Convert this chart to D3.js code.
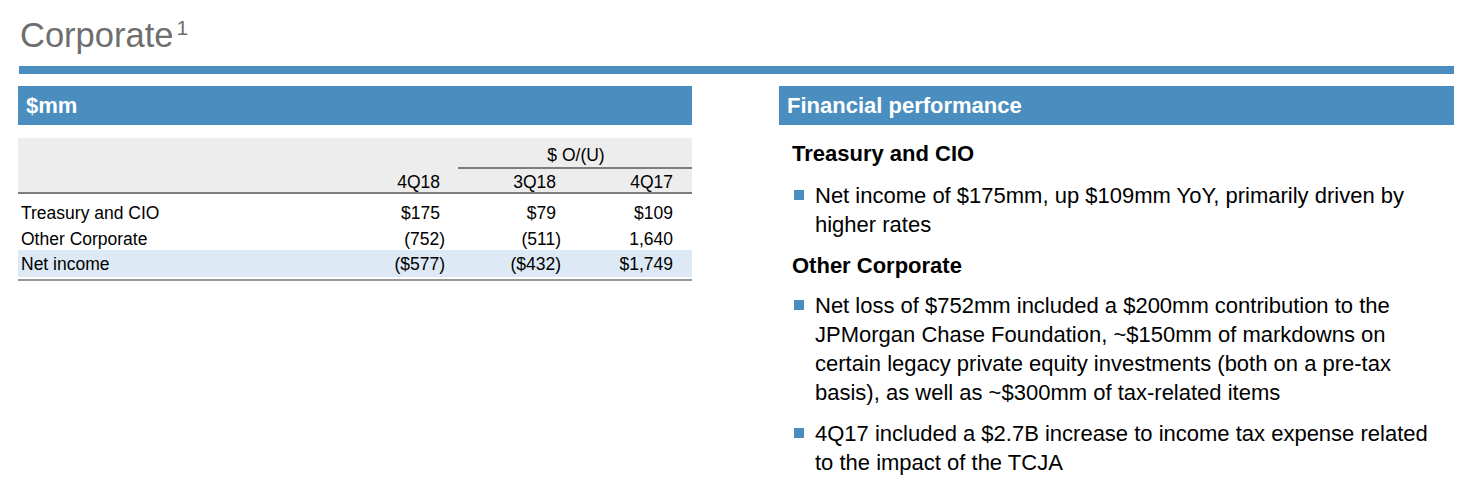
<!DOCTYPE html>
<html>
<head>
<meta charset="utf-8">
<script src="https://cdn.jsdelivr.net/npm/d3@7"></script>
<style>
  body { margin: 0; background: #fff; }
  svg text { font-family: "Liberation Sans", Arial, sans-serif; }
</style>
</head>
<body>
<div id="slide"></div>
<script>
// -----------------------------
// data
// -----------------------------

const periods = ['4Q18', '3Q18', '4Q17']
const groupLabel = '$ O/(U)'
const rowLabels = ['Treasury and CIO', 'Other Corporate', 'Net income']
const treasuryValues = [175, 79, 109]
const otherCorpValues = [-752, -511, 1640]
const netIncomeValues = [-577, -432, 1749]
const dollarRows = [true, false, true]

const sections = ['Treasury and CIO', 'Other Corporate']
const bulletsTreasury = [
    ['Net income of $175mm, up $109mm YoY, primarily driven by', 'higher rates']
]
const bulletsOther = [
    ['Net loss of $752mm included a $200mm contribution to the',
     'JPMorgan Chase Foundation, ~$150mm of markdowns on',
     'certain legacy private equity investments (both on a pre-tax',
     'basis), as well as ~$300mm of tax-related items'],
    ['4Q17 included a $2.7B increase to income tax expense related',
     'to the impact of the TCJA']
]

// -----------------------------
// setup
// -----------------------------

const W = 1482, H = 493
const blue = '#4a8ec0'
const ruleGrey = '#7d7d7d'

const svg = d3.select('#slide')
    .append('svg')
    .attr('width', W)
    .attr('height', H)

// title
const title = svg.append('text')
    .attr('x', 20)
    .attr('y', 47)
    .attr('fill', '#6e6e6e')
    .attr('font-size', 34.5)
    .text('Corporate')
title.append('tspan')
    .attr('font-size', 21)
    .attr('dx', 3)
    .attr('dy', -12)
    .text('1')

svg.append('rect')
    .attr('x', 19).attr('y', 66)
    .attr('width', 1435).attr('height', 8)
    .attr('fill', blue)

// panel headers
const panels = [
    {x: 18, w: 674, label: '$mm'},
    {x: 779, w: 675, label: 'Financial performance'}
]
svg.selectAll('g.panel-head')
    .data(panels)
    .enter()
    .append('g')
    .attr('class', 'panel-head')
    .each(function(d) {
        const g = d3.select(this)
        g.append('rect')
            .attr('x', d.x).attr('y', 86)
            .attr('width', d.w).attr('height', 39)
            .attr('fill', blue)
        g.append('text')
            .attr('x', d.x + 8)
            .attr('y', 113)
            .attr('fill', '#fff')
            .attr('font-weight', 'bold')
            .attr('font-size', 22)
            .text(d.label)
    })

// -----------------------------
// table
// -----------------------------

const tbl = svg.append('g').attr('font-size', 17.5).attr('fill', '#000')

const colX = d3.scaleOrdinal()
    .domain(periods)
    .range([440, 556, 673])

const rowY = d3.scalePoint()
    .domain(rowLabels)
    .range([219, 270])

tbl.append('rect')
    .attr('x', 18).attr('y', 138)
    .attr('width', 674).attr('height', 55)
    .attr('fill', '#ededed')

tbl.append('rect')
    .attr('x', 18).attr('y', 250)
    .attr('width', 674).attr('height', 27)
    .attr('fill', '#dde9f5')

tbl.append('text')
    .attr('x', 576).attr('y', 161)
    .attr('text-anchor', 'middle')
    .text(groupLabel)

tbl.append('line')
    .attr('x1', 458).attr('x2', 692)
    .attr('y1', 168).attr('y2', 168)
    .attr('stroke', ruleGrey).attr('stroke-width', 2)

tbl.selectAll('text.period')
    .data(periods)
    .enter()
    .append('text')
    .attr('class', 'period')
    .attr('x', d => colX(d))
    .attr('y', 188)
    .attr('text-anchor', 'end')
    .text(d => d)

tbl.append('line')
    .attr('x1', 18).attr('x2', 692)
    .attr('y1', 193).attr('y2', 193)
    .attr('stroke', ruleGrey).attr('stroke-width', 2)

tbl.append('line')
    .attr('x1', 18).attr('x2', 692)
    .attr('y1', 280).attr('y2', 280)
    .attr('stroke', '#999').attr('stroke-width', 2)

const fmtNum = d3.format(',')
function fmtCell(v, dollar) {
    const s = (dollar ? '$' : '') + fmtNum(Math.abs(v))
    return v < 0 ? '(' + s + ')' : s
}

const rows = rowLabels.map((name, i) => ({
    name: name,
    dollar: dollarRows[i],
    values: [treasuryValues, otherCorpValues, netIncomeValues][i]
}))

const rowG = tbl.selectAll('g.row')
    .data(rows)
    .enter()
    .append('g')
    .attr('class', 'row')
    .attr('transform', d => 'translate(0,' + rowY(d.name) + ')')

rowG.append('text')
    .attr('x', 21)
    .text(d => d.name)

rowG.selectAll('text.val')
    .data(d => d.values.map((v, j) => ({v: v, period: periods[j], dollar: d.dollar})))
    .enter()
    .append('text')
    .attr('class', 'val')
    .attr('text-anchor', 'end')
    .attr('x', d => colX(d.period) + (d.v < 0 ? 5 : 0))
    .text(d => fmtCell(d.v, d.dollar))

// -----------------------------
// commentary
// -----------------------------

const lineH = 29
const notes = svg.append('g').attr('fill', '#000')

const blocks = [
    {head: sections[0], headY: 161, bullets: bulletsTreasury, startY: 203},
    {head: sections[1], headY: 273, bullets: bulletsOther, startY: 313}
]

blocks.forEach(b => {
    notes.append('text')
        .attr('x', 792)
        .attr('y', b.headY)
        .attr('font-weight', 'bold')
        .attr('font-size', 22)
        .text(b.head)

    let y = b.startY
    b.bullets.forEach(lines => {
        notes.append('rect')
            .attr('x', 794).attr('y', y - 13)
            .attr('width', 10).attr('height', 10)
            .attr('fill', blue)
        notes.append('text')
            .attr('font-size', 22)
            .selectAll('tspan')
            .data(lines)
            .enter()
            .append('tspan')
            .attr('x', 815)
            .attr('y', (d, i) => y + i * lineH)
            .text(d => d)
        y += lines.length * lineH + 12
    })
})
</script>
</body>
</html>
